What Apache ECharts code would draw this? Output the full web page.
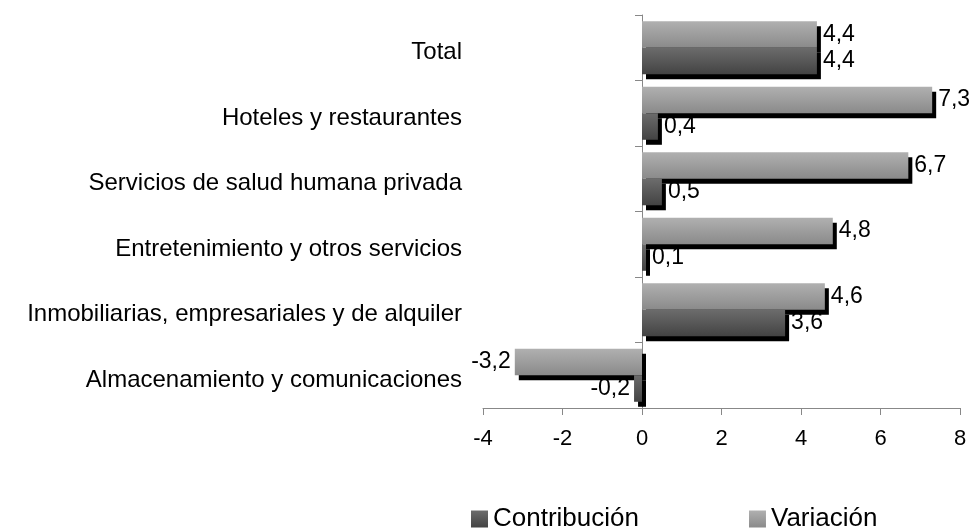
<!DOCTYPE html>
<html>
<head>
<meta charset="utf-8">
<script src="https://cdn.jsdelivr.net/npm/echarts@6/dist/echarts.min.js"></script>
<style>html,body{margin:0;padding:0;background:#fff}#c{width:971px;height:531px}</style>
</head>
<body>
<div id="c"></div>
<script>
var categories = ['Almacenamiento y comunicaciones','Inmobiliarias, empresariales y de alquiler','Entretenimiento y otros servicios','Servicios de salud humana privada','Hoteles y restaurantes','Total'];
var contribucion = [-0.2, 3.6, 0.1, 0.5, 0.4, 4.4];
var variacion = [-3.2, 4.6, 4.8, 6.7, 7.3, 4.4];
var xTicks = [-4, 8, 2];

var FONT = 'Liberation Sans';
function fmt(p){ return String(p.value.toFixed(1)).replace('.', ','); }
function grad(a, b){ return new echarts.graphic.LinearGradient(0,0,0,1,[{offset:0,color:a},{offset:1,color:b}]); }
function lbl(){ return {show:true, position:'right', distance:6, formatter:fmt, color:'#000', fontFamily:FONT, fontSize:23}; }
function mk(arr){
  return arr.map(function(v){
    return {value:v, label: v < 0 ? {position:'left', distance:4} : {}};
  });
}
var chart = echarts.init(document.getElementById('c'), null, {renderer:'canvas'});
chart.setOption({
  animation:false,
  grid:{left:483, right:11, top:15, bottom:123, containLabel:false, outerBoundsMode:'none'},
  legend:{
    data:['Contribución','Variación'], left:466, top:501, icon:'rect', itemWidth:17, itemHeight:17, itemGap:110,
    textStyle:{fontFamily:FONT, fontSize:26, color:'#000'}
  },
  xAxis:{
    type:'value', min:xTicks[0], max:xTicks[1], interval:xTicks[2],
    axisLine:{show:true, lineStyle:{color:'#888', width:1}},
    axisTick:{show:true, length:7, lineStyle:{color:'#888'}},
    splitLine:{show:false},
    axisLabel:{color:'#000', fontFamily:FONT, fontSize:22, margin:20}
  },
  yAxis:{
    type:'category', data:categories,
    axisLine:{show:true, onZero:true, lineStyle:{color:'#888', width:1}},
    axisTick:{show:true, length:7, lineStyle:{color:'#888'}},
    axisLabel:{color:'#000', fontFamily:FONT, fontSize:24, margin:21, verticalAlign:'top', lineHeight:10}
  },
  series:[
    {name:'Variación', type:'bar', data:mk(variacion), barGap:'0%', barCategoryGap:'19%',
     itemStyle:{color:grad('#b0b0b0','#8a8a8a'), shadowColor:'#000', shadowBlur:0, shadowOffsetX:4, shadowOffsetY:5},
     label:lbl()},
    {name:'Contribución', type:'bar', data:mk(contribucion), barGap:'0%', barCategoryGap:'19%',
     itemStyle:{color:grad('#6c6c6c','#434343'), shadowColor:'#000', shadowBlur:0, shadowOffsetX:4, shadowOffsetY:5},
     label:lbl()}
  ]
});
</script>
</body>
</html>
